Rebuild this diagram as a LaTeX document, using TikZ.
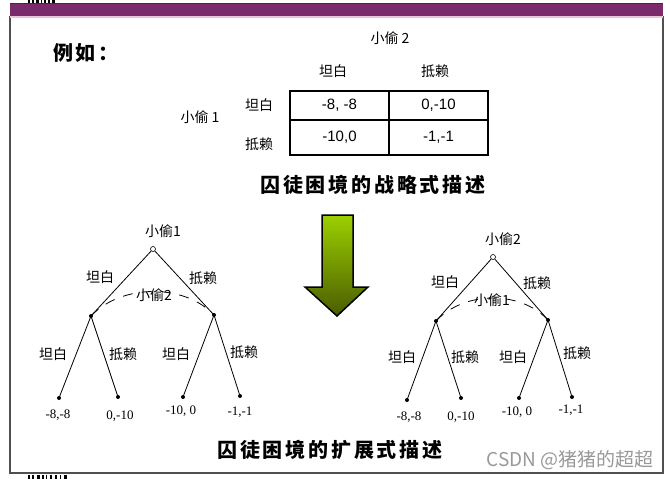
\documentclass[tikz,border=0pt]{standalone}
\usepackage{fontspec}
\setmainfont{Liberation Serif}
\newfontfamily\cjk{Noto Sans CJK SC}
\newfontfamily\arial{Liberation Sans}
\definecolor{barpurple}{HTML}{7B2A6C}
\definecolor{barpink}{HTML}{E8C6DE}
\definecolor{framegray}{HTML}{505050}
\definecolor{arrowtop}{HTML}{9CD000}
\definecolor{arrowbot}{HTML}{4A5C00}
\begin{document}
\begin{tikzpicture}[x=1pt,y=-1pt,
  cn/.style={font=\cjk\fontsize{14}{14}\selectfont, inner sep=0},
  num/.style={font=\fontsize{13}{13}\selectfont, inner sep=0},
  cell/.style={draw, line width=1.3pt, font=\arial\fontsize{15}{15}\selectfont, minimum width=99pt, inner sep=0},
  ttl/.style={font=\cjk\bfseries\fontsize{20}{20}\selectfont\addfontfeatures{LetterSpace=14}, inner sep=0},
  dot/.style={circle, fill, inner sep=0, minimum size=4pt},
  rootnode/.style={circle, draw, fill=white, inner sep=0, minimum size=5pt, line width=0.6pt},
  edge/.style={line width=0.8pt},
  infoset/.style={line width=0.8pt, dash pattern=on 10pt off 9pt}
]
\useasboundingbox (0,0) rectangle (670,479);
\fill[white] (0,0) rectangle (670,479);
% barcode fragments
\foreach \x/\w in {28/2,32/1.5,36/2.5,41/1,44/2,48/1.5,52/2.5}{\fill[black] (\x,0) rectangle (\x+\w,2.5);}
\foreach \x/\w in {28/2,32/2,37/3,42/1.5,46/1,50/1.5,55/2,60/1,64/3}{\fill[black] (\x,475) rectangle (\x+\w,479);}
% frame
\draw[line width=1.2pt, framegray] (10,16) -- (10,473) -- (663,473) -- (663,16);
\fill[barpink] (10,15) rectangle (663,18);
\fill[barpurple] (10,3) rectangle (663,15.5);
\draw[line width=0.8pt, black!80] (10,3) -- (663,3);

% heading
\node[font=\cjk\bfseries\fontsize{20}{20}\selectfont\addfontfeatures{LetterSpace=12}, inner sep=0] (eg) at (86,53) {例如：};

% strategic form
\node[cn] (p2) at (390,38) {小偷\ 2};
\node[cn] (h1) at (333,71) {坦白};
\node[cn] (h2) at (435,71) {抵赖};
\node[cn] (p1) at (200,117) {小偷\ 1};
\node[cn] (r1) at (259,105) {坦白};
\node[cn] (r2) at (259,144) {抵赖};
\node[cell, minimum height=29pt] (c11) at (339.5,105.5) {-8, -8};
\node[cell, minimum height=29pt] (c12) at (438.5,105.5) {0,-10};
\node[cell, minimum height=35pt] (c21) at (339.5,137.5) {-10,0};
\node[cell, minimum height=35pt] (c22) at (438.5,137.5) {-1,-1};
\node[ttl] (t1) at (373,185) {囚徒困境的战略式描述};

% arrow
\shadedraw[top color=arrowtop, bottom color=arrowbot, draw=black, line width=1.5pt, line join=miter]
  (322,215) -- (353,215) -- (353,287) -- (368,287) -- (337,316) -- (305,287) -- (322,287) -- cycle;

% left tree
\node[rootnode] (A) at (153,249) {};
\node[cn] (Al) at (163,231) {小偷1};
\node[dot] (B) at (91,316) {};
\node[dot] (C) at (214,315) {};
\node[dot] (B1) at (59,398) {};
\node[dot] (B2) at (118,397) {};
\node[dot] (C1) at (183,397) {};
\node[dot] (C2) at (240,396) {};
\draw[edge] (A) -- (B.center);
\draw[edge] (A) -- (C.center);
\draw[edge] (B.center) -- (B1.center);
\draw[edge] (B.center) -- (B2.center);
\draw[edge] (C.center) -- (C1.center);
\draw[edge] (C.center) -- (C2.center);
\draw[infoset] (B.center) .. controls +(30,-32) and +(-30,-32) .. (C.center);
\node[cn] (ABl) at (100,277) {坦白};
\node[cn] (ACl) at (203,278) {抵赖};
\node[cn] (Il) at (154,295) {小偷2};
\node[cn] (B1l) at (53,354) {坦白};
\node[cn] (B2l) at (123,354) {抵赖};
\node[cn] (C1l) at (176,354) {坦白};
\node[cn] (C2l) at (244,352) {抵赖};
\node[num] (B1v) at (58,415) {-8,-8};
\node[num] (B2v) at (120,416) {0,-10};
\node[num] (C1v) at (181,411) {-10, 0};
\node[num] (C2v) at (240,412) {-1,-1};

% right tree
\node[rootnode] (D) at (493,257) {};
\node[cn] (Dl) at (503,239) {小偷2};
\node[dot] (E) at (436,321) {};
\node[dot] (F) at (548,320) {};
\node[dot] (E1) at (407,400) {};
\node[dot] (E2) at (461,398) {};
\node[dot] (F1) at (519,398) {};
\node[dot] (F2) at (572,397) {};
\draw[edge] (D) -- (E.center);
\draw[edge] (D) -- (F.center);
\draw[edge] (E.center) -- (E1.center);
\draw[edge] (E.center) -- (E2.center);
\draw[edge] (F.center) -- (F1.center);
\draw[edge] (F.center) -- (F2.center);
\draw[infoset] (E.center) .. controls +(28,-30) and +(-28,-30) .. (F.center);
\node[cn] (DEl) at (445,282) {坦白};
\node[cn] (DFl) at (537,283) {抵赖};
\node[cn] (Jl) at (492,300) {小偷1};
\node[cn] (E1l) at (402,357) {坦白};
\node[cn] (E2l) at (465,357) {抵赖};
\node[cn] (F1l) at (513,357) {坦白};
\node[cn] (F2l) at (577,353) {抵赖};
\node[num] (E1v) at (409,417) {-8,-8};
\node[num] (E2v) at (461,417) {0,-10};
\node[num] (F1v) at (517,412) {-10, 0};
\node[num] (F2v) at (571,410) {-1,-1};

\node[ttl] (t2) at (330,450) {囚徒困境的扩展式描述};

% watermark
\node[font=\cjk\fontsize{19}{19}\selectfont, text=black!40, inner sep=0] (wm) at (570,460) {CSDN @猪猪的超超};
\end{tikzpicture}
\end{document}
